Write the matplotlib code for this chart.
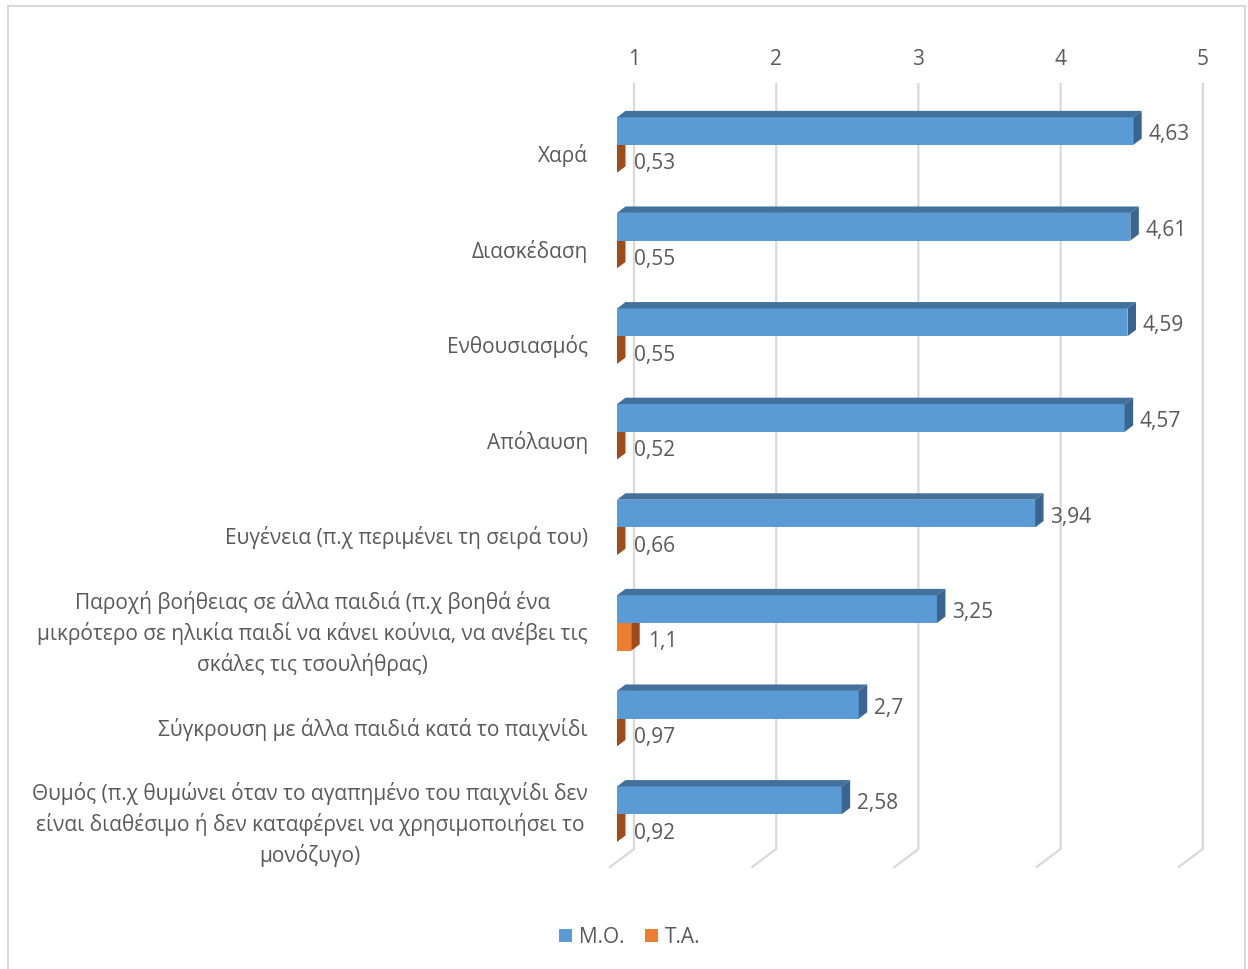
import matplotlib
matplotlib.use("Agg")
import matplotlib.pyplot as plt
from matplotlib.patches import Patch, Rectangle

plt.rcParams['font.family'] = ['Open Sans', 'DejaVu Sans']

# Categories and series values
categories = [
    'Χαρά',
    'Διασκέδαση',
    'Ενθουσιασμός',
    'Απόλαυση',
    'Ευγένεια (π.χ περιμένει τη σειρά του)',
    'Παροχή βοήθειας σε άλλα παιδιά (π.χ βοηθά ένα\n'
    'μικρότερο σε ηλικία παιδί να κάνει κούνια, να ανέβει τις\n'
    'σκάλες τις τσουλήθρας)',
    'Σύγκρουση με άλλα παιδιά κατά το παιχνίδι',
    'Θυμός (π.χ θυμώνει όταν το αγαπημένο του παιχνίδι δεν\n'
    'είναι διαθέσιμο ή δεν καταφέρνει να χρησιμοποιήσει το\n'
    'μονόζυγο)',
]
mean_vals = [4.63, 4.61, 4.59, 4.57, 3.94, 3.25, 2.7, 2.58]
sd_vals = [0.53, 0.55, 0.55, 0.52, 0.66, 1.1, 0.97, 0.92]
series_names = ['M.O.', 'T.A.']
axis_ticks = [1, 2, 3, 4, 5]

# Colours
BLUE = '#5b9bd5'
BLUE_TOP = '#41719c'
BLUE_SIDE = '#3a6590'
ORANGE = '#ed7d31'
ORANGE_SIDE = '#9e4c1a'
GRID = '#d9d9d9'
TEXT = '#595959'
FS = 15

W, H = 1248, 970
fig = plt.figure(figsize=(W / 100, H / 100), dpi=100)

# axes geometry (pixels): value 1 at x=617, 142.2 px per unit; category pitch 95.6 px
PX_X = 142.2
PX_Y = 95.6
ax_left, ax_right, ax_top, ax_bot = 600, 1230, 60, 900
ax = fig.add_axes([ax_left / W, 1 - ax_bot / H,
                   (ax_right - ax_left) / W, (ax_bot - ax_top) / H])
ax.set_xlim(1 + (ax_left - 617) / PX_X, 1 + (ax_right - 617) / PX_X)
ax.set_ylim((ax_bot - 146) / PX_Y, (ax_top - 146) / PX_Y)
ax.axis('off')

# 3D depth vectors in data units
dx, dy = 8.5 / PX_X, -6.4 / PX_Y           # one bar depth
back_dx, back_dy = 17 / PX_X, -12.8 / PX_Y  # bar front -> back wall
floor_dx, floor_dy = -7 / PX_X, 5.2 / PX_Y  # bar front -> floor front edge
h = 0.29
wall_top = (85 - 146) / PX_Y
wall_bot = (850 - 146) / PX_Y
txt_dy = 2.5 / PX_Y  # small downward nudge for text baselines

# back wall gridlines + floor segments
for v in axis_ticks:
    xb = v + back_dx
    ax.plot([xb, xb, v + floor_dx], [wall_top, wall_bot, wall_bot + (floor_dy - back_dy)],
            color=GRID, lw=1.6, solid_joinstyle='miter', zorder=1)
    ax.text(xb, (57 - 146) / PX_Y + txt_dy, str(v), ha='center', va='center',
            fontsize=FS, color=TEXT)


def bar3d(y0, val, front, top, side):
    x0 = 1
    x1 = max(val, 1)
    y1 = y0 + h
    if x1 > x0:
        ax.add_patch(Rectangle((x0, y0), x1 - x0, h, facecolor=front,
                               edgecolor='none', zorder=3))
    ax.fill([x0, x1, x1 + dx, x0 + dx], [y0, y0, y0 + dy, y0 + dy],
            color=top, lw=0, zorder=3)
    ax.fill([x1, x1 + dx, x1 + dx, x1], [y0, y0 + dy, y1 + dy, y1],
            color=side, lw=0, zorder=3)


for i, (m, s) in enumerate(zip(mean_vals, sd_vals)):
    # orange first, blue drawn over it
    bar3d(i, s, ORANGE, ORANGE_SIDE, ORANGE_SIDE)
    bar3d(i - h, m, BLUE, BLUE_TOP, BLUE_SIDE)
    ax.text(max(m, 1) + dx + 6.5 / PX_X, i - h / 2 + txt_dy, f'{m:g}'.replace('.', ','),
            ha='left', va='center', fontsize=FS, color=TEXT, zorder=5)
    ax.text(max(s, 1) + dx + 8.5 / PX_X, i + h / 2 + 1.5 / PX_Y + txt_dy,
            f'{s:g}'.replace('.', ','),
            ha='left', va='center', fontsize=FS, color=TEXT, zorder=5)
    ax.text(1 + (588 - 617) / PX_X, i + 7 / PX_Y + txt_dy, categories[i], ha='right',
            va='center', multialignment='center', fontsize=FS, color=TEXT,
            linespacing=1.45, clip_on=False)

# legend
handles = [Patch(facecolor=BLUE, edgecolor='none'), Patch(facecolor=ORANGE, edgecolor='none')]
fig.legend(handles, series_names, loc='center', bbox_to_anchor=(630 / W, 1 - 938 / H),
           ncol=2, frameon=False, fontsize=FS, labelcolor=TEXT,
           handlelength=0.6, handleheight=0.6, handletextpad=0.35, columnspacing=1.0)

# chart frame
fig.add_artist(Rectangle((8 / W, -0.05), (1245 - 8) / W, 1.05 - 7 / H, transform=fig.transFigure,
                         facecolor='none', edgecolor=GRID, lw=1.5))

fig.savefig('out.png', dpi=100)
